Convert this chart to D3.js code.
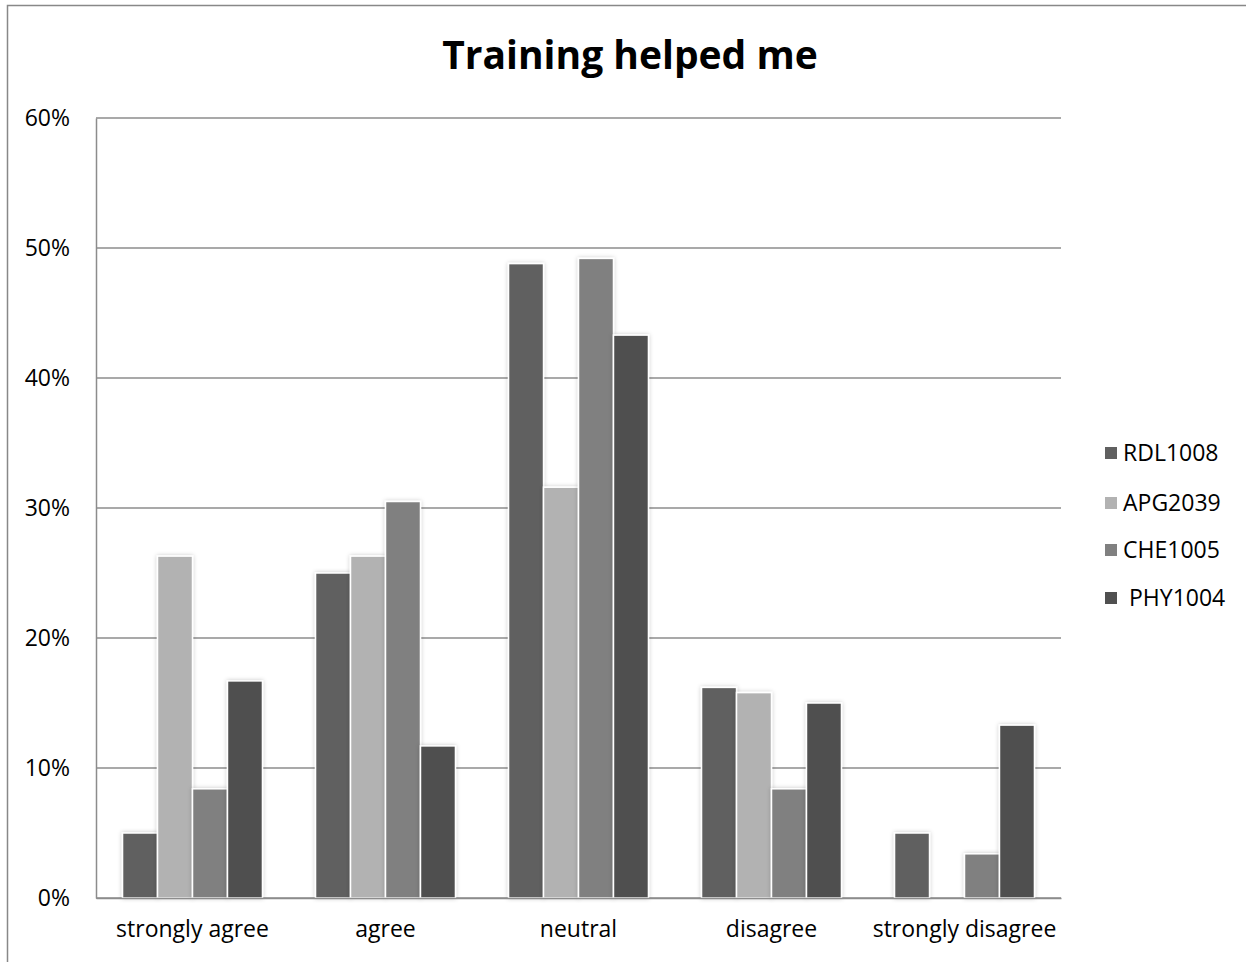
<!DOCTYPE html>
<html><head><meta charset="utf-8">
<script src="https://cdn.jsdelivr.net/npm/d3@7"></script>
<style>body{margin:0;background:#fff}svg{display:block}</style>
</head><body>
<script>
const categories = ["strongly agree","agree","neutral","disagree","strongly disagree"];
const seriesNames = ["RDL1008","APG2039","CHE1005"," PHY1004"];
const RDL1008 = [5.0, 25.0, 48.8, 16.2, 5.0];
const APG2039 = [26.3, 26.3, 31.6, 15.8, 0];
const CHE1005 = [8.4, 30.5, 49.2, 8.4, 3.4];
const PHY1004 = [16.7, 11.7, 43.3, 15.0, 13.3];
const seriesValues = [RDL1008, APG2039, CHE1005, PHY1004];
const colors = ["#606060","#b2b2b2","#808080","#505050"];
const yTicks = [0,10,20,30,40,50,60];
const title = "Training helped me";

const W = 1246, H = 962;
const font = "'Open Sans', sans-serif";
const svg = d3.select("body").append("svg").attr("width", W).attr("height", H);

const defs = svg.append("defs");
const f = defs.append("filter").attr("id","sh").attr("x","-30%").attr("y","-10%").attr("width","160%").attr("height","120%");
f.append("feDropShadow").attr("dx",0).attr("dy",0).attr("stdDeviation",2.2).attr("flood-color","#000").attr("flood-opacity",0.22);

svg.append("rect").attr("x",7.5).attr("y",5.5).attr("width",W+20).attr("height",H+20)
  .attr("fill","#fff").attr("stroke","#888").attr("stroke-width",1.5);

const L = 96, R = 1061, T = 118, B = 898;
const x0 = d3.scaleBand().domain(categories).range([L,R]).paddingInner(0.275).paddingOuter(0.1375);
const x1 = d3.scaleBand().domain(d3.range(seriesNames.length)).range([0, x0.bandwidth()]);
const y = d3.scaleLinear().domain([0,60]).range([B,T]);

svg.append("g").selectAll("line").data(yTicks).join("line")
  .attr("x1",L).attr("x2",R).attr("y1",d=>y(d)).attr("y2",d=>y(d))
  .attr("stroke","#8c8c8c").attr("stroke-width",1.5);

const yAxis = svg.append("g").attr("transform",`translate(${L},0)`)
  .call(d3.axisLeft(y).tickValues(yTicks).tickFormat(d=>d+"%").tickSize(0).tickPadding(26));
yAxis.select(".domain").attr("stroke","#8c8c8c").attr("stroke-width",1.5);
yAxis.selectAll("text").attr("font-family",font).attr("font-size",23).attr("fill","#000");

const g = svg.append("g");
categories.forEach((c,ci)=>{
  seriesValues.forEach((vals,si)=>{
    if (!vals[ci]) return;
    g.append("rect")
      .attr("x", x0(c)+x1(si)).attr("width", x1.bandwidth())
      .attr("y", y(vals[ci])).attr("height", y(0)-y(vals[ci]))
      .attr("fill", colors[si]).attr("stroke","#fff").attr("stroke-width",1.5)
      .attr("filter","url(#sh)");
  });
});

const xAxis = svg.append("g").attr("transform",`translate(0,${B})`)
  .call(d3.axisBottom(x0).tickSize(0).tickPadding(23));
xAxis.select(".domain").attr("stroke","#8c8c8c").attr("stroke-width",1.5);
xAxis.selectAll("text").attr("font-family",font).attr("font-size",23).attr("fill","#000");

svg.append("text").attr("x",630).attr("y",69).attr("text-anchor","middle")
  .attr("font-family",font).attr("font-weight","bold").attr("font-size",39).text(title);

const leg = svg.append("g");
const legY = [453, 503, 550, 598];
seriesNames.forEach((n,i)=>{
  leg.append("rect").attr("x",1105).attr("y",legY[i]-6).attr("width",12).attr("height",12).attr("fill",colors[i]);
  leg.append("text").attr("x",1123).attr("y",legY[i]).attr("dy","0.35em")
    .attr("font-family",font).attr("font-size",23).attr("fill","#000").attr("xml:space","preserve").style("white-space","pre").text(n);
});
</script>
</body></html>
